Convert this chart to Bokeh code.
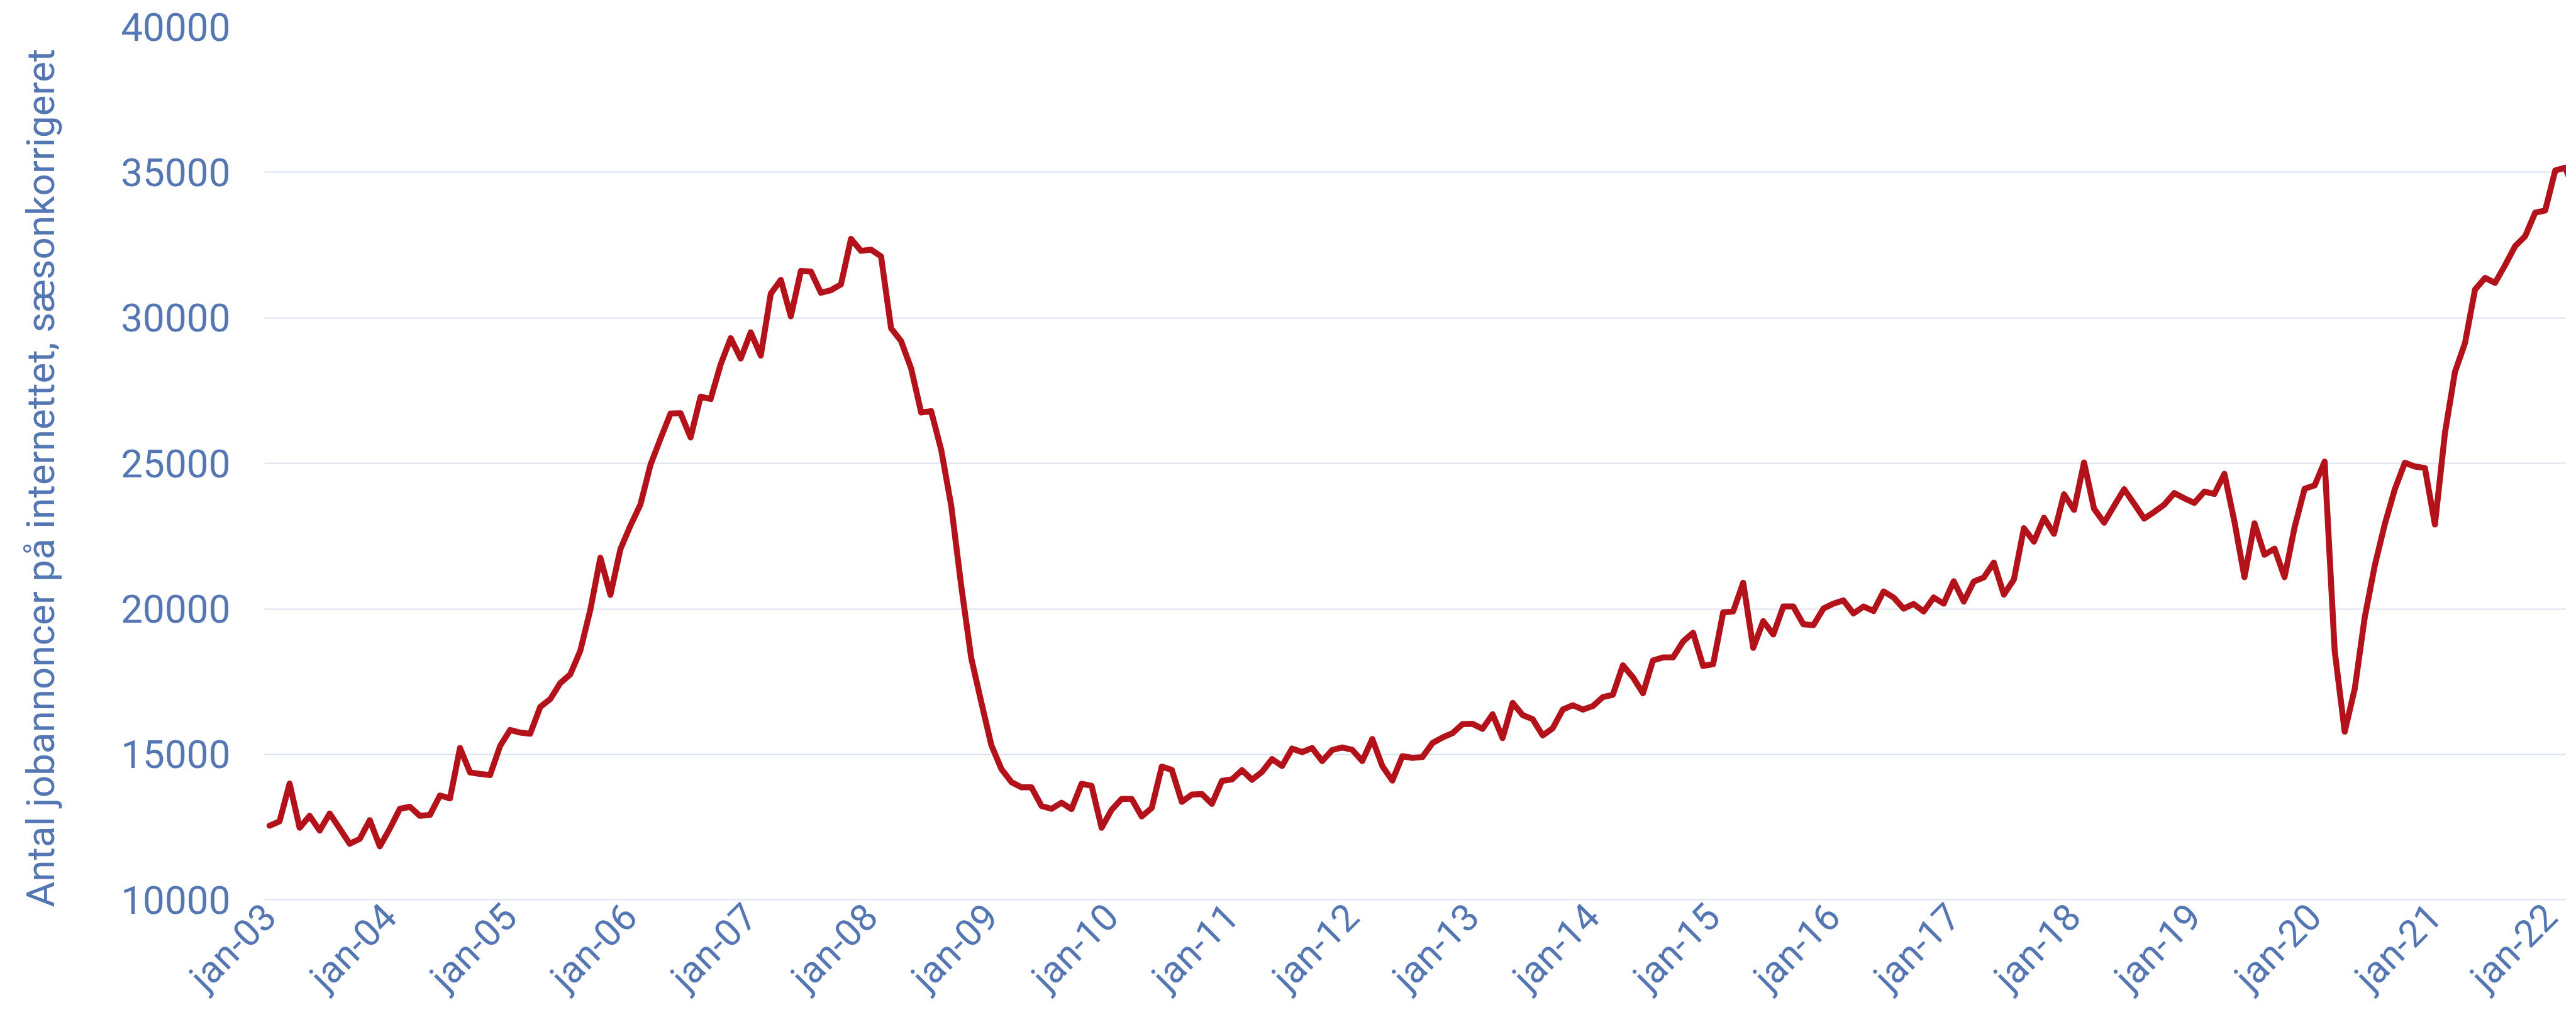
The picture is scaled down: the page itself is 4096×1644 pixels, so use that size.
from math import pi
from bokeh.plotting import figure
from bokeh.models import FixedTicker, Range1d
from bokeh.embed import file_html
from bokeh.resources import INLINE

# Monthly job ads on the internet, seasonally adjusted, jan-03 .. mar-22
values = [
    12550, 12700, 14000, 12480, 12890, 12380, 12970, 12450, 11930, 12100, 12740, 11840,   # 2003
    12450, 13130, 13200, 12890, 12920, 13590, 13490, 15220, 14380, 14330, 14290, 15290,   # 2004
    15840, 15750, 15710, 16630, 16900, 17450, 17750, 18560, 19970, 21760, 20480, 22050,   # 2005
    22860, 23590, 24950, 25850, 26710, 26720, 25890, 27290, 27210, 28400, 29300, 28600,   # 2006
    29500, 28700, 30830, 31300, 30050, 31610, 31590, 30860, 30950, 31150, 32710, 32300,   # 2007
    32340, 32110, 29640, 29200, 28260, 26750, 26790, 25460, 23540, 20780, 18300, 16790,   # 2008
    15320, 14500, 14050, 13870, 13870, 13230, 13130, 13340, 13120, 13990, 13920, 12480,   # 2009
    13100, 13470, 13470, 12870, 13160, 14580, 14470, 13370, 13620, 13640, 13300, 14090,   # 2010
    14140, 14460, 14130, 14400, 14840, 14600, 15200, 15080, 15220, 14770, 15150, 15240,   # 2011
    15160, 14770, 15530, 14600, 14100, 14940, 14880, 14910, 15390, 15580, 15730, 16040,   # 2012
    16050, 15880, 16380, 15560, 16770, 16350, 16210, 15650, 15900, 16540, 16690, 16540,   # 2013
    16660, 16970, 17050, 18060, 17650, 17100, 18230, 18330, 18330, 18880, 19180, 18040,   # 2014
    18100, 19880, 19910, 20900, 18660, 19580, 19120, 20080, 20080, 19470, 19440, 20010,   # 2015
    20180, 20290, 19840, 20080, 19930, 20600, 20390, 20010, 20170, 19910, 20390, 20180,   # 2016
    20950, 20250, 20940, 21080, 21590, 20490, 21010, 22770, 22310, 23130, 22580, 23940,   # 2017
    23400, 25030, 23440, 22960, 23540, 24110, 23610, 23100, 23330, 23580, 23980, 23800,   # 2018
    23640, 24030, 23950, 24640, 23000, 21090, 22940, 21860, 22070, 21090, 22800, 24130,   # 2019
    24240, 25060, 18560, 15780, 17250, 19710, 21490, 22910, 24110, 25020, 24890, 24840,   # 2020
    22900, 26040, 28140, 29130, 30970, 31370, 31200, 31810, 32460, 32800, 33610, 33690,   # 2021
    35060, 35160, 34300,                                                                    # 2022
]
months = list(range(len(values)))

x_tick_labels = ["jan-03", "jan-04", "jan-05", "jan-06", "jan-07", "jan-08", "jan-09",
                 "jan-10", "jan-11", "jan-12", "jan-13", "jan-14", "jan-15", "jan-16",
                 "jan-17", "jan-18", "jan-19", "jan-20", "jan-21", "jan-22"]
x_ticks = [12 * k for k in range(len(x_tick_labels))]
y_ticks = [10000, 15000, 20000, 25000, 30000, 35000, 40000]
y_tick_labels = ["10000", "15000", "20000", "25000", "30000", "35000", "40000"]
y_title = "Antal jobannoncer på internettet, sæsonkorrigeret"

BLUE = "#5476B2"
RED = "#B4121A"
GRID = "#DCE3F0"
FONT = "Roboto"

p = figure(width=4080, height=1628, output_backend="svg", toolbar_location=None,
           x_range=Range1d(-0.508, 229.10), y_range=Range1d(8992, 40000),
           min_border_left=420, min_border_right=0, min_border_top=42, min_border_bottom=151)
p.outline_line_color = None
p.background_fill_color = "white"
p.border_fill_color = "white"

p.line(months, values, line_color=RED, line_width=9.5, line_join="round", line_cap="round")

# x axis
p.xaxis.ticker = FixedTicker(ticks=x_ticks)
p.xaxis.major_label_overrides = {t: lab for t, lab in zip(x_ticks, x_tick_labels)}
p.xaxis.major_label_orientation = pi / 4
p.xaxis.axis_line_color = None
p.xaxis.major_tick_line_color = None
p.xaxis.minor_tick_line_color = None
p.xaxis.major_tick_out = 0
p.xaxis.minor_tick_out = 0
p.xaxis.major_label_standoff = -30
p.xaxis.major_label_text_font = FONT
p.xaxis.major_label_text_font_size = "60px"
p.xaxis.major_label_text_color = BLUE
p.xgrid.grid_line_color = None

# y axis
p.yaxis.ticker = FixedTicker(ticks=y_ticks)
p.yaxis.major_label_overrides = {t: lab for t, lab in zip(y_ticks, y_tick_labels)}
p.yaxis.axis_line_color = None
p.yaxis.major_tick_line_color = None
p.yaxis.minor_tick_line_color = None
p.yaxis.major_tick_out = 0
p.yaxis.minor_tick_out = 0
p.yaxis.major_label_standoff = 54
p.yaxis.major_label_text_font = FONT
p.yaxis.major_label_text_font_size = "62px"
p.yaxis.major_label_text_color = BLUE
p.yaxis.axis_label = y_title
p.yaxis.axis_label_text_font = FONT
p.yaxis.axis_label_text_font_style = "normal"
p.yaxis.axis_label_text_font_size = "62px"
p.yaxis.axis_label_text_color = BLUE
p.yaxis.axis_label_standoff = 88
p.ygrid.ticker = FixedTicker(ticks=y_ticks)
p.ygrid.grid_line_color = GRID
p.ygrid.grid_line_width = 2

open("out.html", "w").write(file_html(p, INLINE))
